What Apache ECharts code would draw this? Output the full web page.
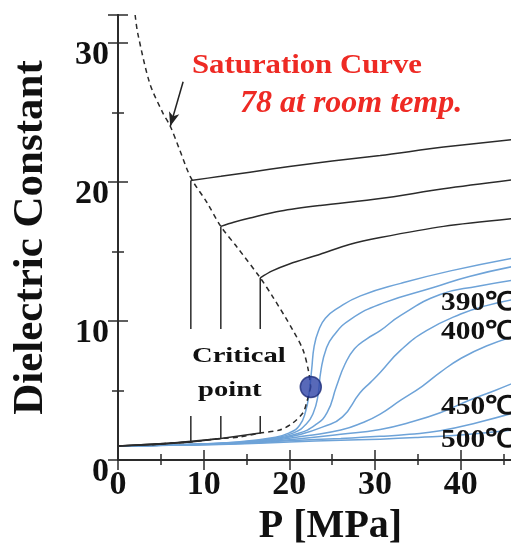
<!DOCTYPE html>
<html><head><meta charset="utf-8">
<script src="https://cdn.jsdelivr.net/npm/echarts@6/dist/echarts.min.js"></script>
<style>html,body{margin:0;padding:0;background:#fff}#c{width:511px;height:546px}</style>
</head><body><div id="c"></div>
<script>
// ---- data (P [MPa], dielectric constant) ----
const xTickValues = [0, 10, 20, 30, 40];
const yTickValues = [0, 10, 20, 30];
const satLiquid = [[2.0,32.0],[2.3,30.7],[3.7,27.1],[5.2,25.0],[6.1,24.0],[7.2,22.3],[8.5,20.3],[10.4,18.5],[12.0,16.8],[13.9,15.3],[16.6,13.1],[18.1,11.7],[20.4,9.35],[21.6,7.9],[22.2,6.5],[22.5,5.25]];
const satVapor = [[22.5,5.25],[22.0,4.1],[21.6,3.4],[20.4,2.66],[18.9,2.16],[16.6,1.94],[14.2,1.65],[12.0,1.55],[8.5,1.3],[6.4,1.22],[4.0,1.1]];
const criticalPoint = [[22.5, 5.25]];
// subcritical isotherms (black): gas branch + liquid branch
const isoAGas = [[0,1.0],[4,1.1],[8.5,1.3]];
const isoALiquid = [[8.5,20.1],[12,20.4],[15.4,20.7],[20,21.1],[25,21.5],[30.6,21.9],[38,22.5],[46.8,23.1]];
const isoBGas = [[0,1.0],[6,1.2],[12,1.55]];
const isoBLiquid = [[12,16.8],[13.5,17.1],[15.4,17.4],[19,17.9],[23.6,18.3],[30.6,18.8],[38,19.5],[46.8,20.2]];
const isoCGas = [[0,1.0],[8.5,1.3],[12,1.55],[16.6,1.94]];
const isoCLiquid = [[16.6,13.1],[18,13.6],[20,14.1],[23.6,14.8],[27,15.5],[30.6,16.0],[38,16.8],[46.8,17.4]];
// supercritical isotherms (blue)
const blue1 = [[0,1.0],[8,1.12],[14,1.3],[18,1.6],[20,1.95],[21.2,2.5],[21.9,3.5],[22.3,4.8],[22.6,6.5],[22.9,8.2],[23.4,9.3],[24.2,10.2],[25.6,10.9],[28.3,11.8],[33,12.7],[38.8,13.6],[46.8,14.6]];
const blue2 = [[0,1.0],[8,1.12],[14,1.28],[18,1.55],[20.5,1.95],[22,2.6],[22.8,3.4],[23.3,4.5],[23.7,6.5],[24.3,8.0],[25.1,8.9],[27.1,10.1],[31,11.3],[36.8,12.4],[41,13.2],[46.8,14.0]];
const blue3 = [[0,1.0],[8,1.11],[14,1.26],[18,1.5],[21,1.9],[23,2.5],[24.4,3.4],[25.5,5.3],[26.5,6.9],[27.6,8.0],[29,8.7],[30.6,9.3],[33,10.4],[37.6,11.9],[42,12.5],[46.8,13.0]];
const blue4 = [[0,1.0],[8,1.1],[14,1.24],[18,1.45],[21,1.8],[24,2.4],[26.2,3.1],[28.2,4.8],[29.5,5.6],[30.6,6.3],[33,7.9],[36,9.3],[40,10.5],[43,11.1],[46.8,11.6]];
const blue5 = [[0,1.0],[8,1.1],[14,1.22],[18,1.4],[22,1.75],[26,2.15],[28.6,2.7],[30.6,3.3],[33,4.3],[35.5,5.3],[37.6,6.3],[40,7.3],[43,8.2],[46.8,9.0]];
const blue6 = [[0,1.0],[8,1.09],[14,1.2],[20,1.45],[26,1.85],[30.6,2.2],[34,2.7],[37.6,3.4],[41,4.3],[44,5.0],[46.8,5.7]];
const blue7 = [[0,1.0],[8,1.08],[14,1.18],[20,1.38],[26,1.55],[30.6,1.7],[34,1.85],[37.6,2.1],[42,2.7],[46.8,3.5]];
const blue8 = [[0,1.0],[8,1.07],[14,1.15],[20,1.3],[26,1.42],[30.6,1.5],[35,1.62],[40,1.8],[46.8,2.2]];
const arrowLine = [[7.6,27.2],[6.1,24.0]];
const tempLabels = ['390℃','400℃','450℃','500℃'];

const SERIF = '"Liberation Serif","Times New Roman",serif';
const BLUE = '#6ea3d8';
const DARK = '#2b2b2b';

function lineSeries(data, color, width, extra) {
  return Object.assign({type:'line', data:data, symbol:'none', silent:true,
    lineStyle:{color:color, width:width}, clip:true}, extra || {});
}

const series = [];
[blue8, blue7, blue6, blue5, blue4, blue3, blue2, blue1].forEach(d => {
  series.push(lineSeries(d, BLUE, 1.5, {smooth:0.5, z:2}));
});
[[isoAGas, isoALiquid],[isoBGas, isoBLiquid],[isoCGas, isoCLiquid]].forEach(([g, l]) => {
  series.push(lineSeries(g.concat([l[0]]), DARK, 1.5, {z:3}));
  series.push(lineSeries(l, DARK, 1.5, {smooth:0.3, z:3}));
});
series.push(lineSeries(satLiquid, DARK, 1.5, {smooth:0.3, z:4, lineStyle:{color:DARK, width:1.5, type:[5,4]}}));
series.push(lineSeries(satVapor, DARK, 1.5, {smooth:0.3, z:4, lineStyle:{color:DARK, width:1.5, type:[5,4]}}));
series.push({type:'line', data:[], symbol:'none', silent:true,
  markLine:{silent:true, symbol:['none','arrow'], symbolSize:[8,14], label:{show:false},
    lineStyle:{color:'#222', width:1.5, type:'solid'},
    data:[[{coord:arrowLine[0]},{coord:arrowLine[1]}]]}});
series.push({type:'scatter', data:criticalPoint, symbol:'circle', symbolSize:21, z:10, silent:true,
  itemStyle:{color:'#2e44a8', borderColor:'#1c2b78', borderWidth:1.5}});

const axisLineStyle = {lineStyle:{color:DARK, width:2}};
const chart = echarts.init(document.getElementById('c'), null, {renderer:'canvas'});
chart.setOption({
  animation:false,
  backgroundColor:'#fff',
  grid:{left:118, top:15, right:-8, bottom:86, containLabel:false, outerBoundsMode:'none'},
  xAxis:[{
    type:'value', min:0, max:46.8, interval:10, position:'bottom',
    name:'P [MPa]', nameLocation:'middle', nameGap:39,
    nameTextStyle:{fontFamily:SERIF, fontWeight:'bold', fontSize:40, color:'#111', padding:[0,0,0,24]},
    axisLine:axisLineStyle,
    axisTick:{inside:true, length:10, lineStyle:{color:DARK, width:1.5}},
    minorTick:{show:true, splitNumber:2, length:6, lineStyle:{color:DARK, width:1.5}},
    splitLine:{show:false},
    axisLabel:{fontFamily:SERIF, fontWeight:'bold', fontSize:34, color:'#111', margin:8,
      formatter:v => xTickValues.includes(v) ? String(v) : ''}
  },{
    type:'value', min:0, max:46.8, interval:10, position:'top',
    axisLine:axisLineStyle,
    axisTick:{inside:true, length:10, lineStyle:{color:DARK, width:1.5}},
    minorTick:{show:true, splitNumber:2, length:5, lineStyle:{color:DARK, width:1.5}},
    splitLine:{show:false}, axisLabel:{show:false}
  }],
  yAxis:[{
    type:'value', min:0, max:32, interval:10, position:'left',
    name:'Dielectric Constant', nameLocation:'middle', nameGap:66, nameRotate:90,
    nameTextStyle:{fontFamily:SERIF, fontWeight:'bold', fontSize:43, color:'#111'},
    axisLine:axisLineStyle,
    axisTick:{inside:true, length:10, lineStyle:{color:DARK, width:1.5}},
    minorTick:{show:true, splitNumber:2, length:6, lineStyle:{color:DARK, width:1.5}},
    splitLine:{show:false},
    axisLabel:{fontFamily:SERIF, fontWeight:'bold', fontSize:34, color:'#111', margin:9,
      verticalAlign:'top', lineHeight:24,
      formatter:v => yTickValues.includes(v) ? String(v) : ''}
  },{
    type:'value', min:0, max:32, interval:10, position:'right',
    axisLine:axisLineStyle,
    axisTick:{inside:true, length:10, lineStyle:{color:DARK, width:1.5}},
    minorTick:{show:true, splitNumber:2, length:6, lineStyle:{color:DARK, width:1.5}},
    splitLine:{show:false}, axisLabel:{show:false}
  }],
  series:series,
  graphic:[
    {type:'text', x:192, y:66, scaleX:1.14, z:50, style:{text:'Saturation Curve', fill:'#ee2a24',
      font:'bold 27px '+SERIF, textVerticalAlign:'middle'}},
    {type:'text', x:240, y:104, z:50, style:{text:'78 at room temp.', fill:'#ee2a24',
      font:'italic bold 32px '+SERIF, textVerticalAlign:'middle'}},
    {type:'rect', shape:{x:186, y:329, width:104, height:87}, z:40, style:{fill:'#fff'}},
    {type:'text', x:192, y:356, scaleX:1.3, z:50, style:{text:'Critical', fill:'#111',
      font:'bold 22px '+SERIF, textVerticalAlign:'middle'}},
    {type:'text', x:198, y:390, scaleX:1.3, z:50, style:{text:'point', fill:'#111',
      font:'bold 22px '+SERIF, textVerticalAlign:'middle'}},
    {type:'text', x:441, y:303, scaleX:1.13, z:50, style:{text:tempLabels[0], fill:'#111',
      font:'bold 26px '+SERIF, textVerticalAlign:'middle'}},
    {type:'text', x:441, y:332, scaleX:1.13, z:50, style:{text:tempLabels[1], fill:'#111',
      font:'bold 26px '+SERIF, textVerticalAlign:'middle'}},
    {type:'text', x:441, y:407, scaleX:1.13, z:50, style:{text:tempLabels[2], fill:'#111',
      font:'bold 26px '+SERIF, textVerticalAlign:'middle'}},
    {type:'text', x:441, y:440, scaleX:1.13, z:50, style:{text:tempLabels[3], fill:'#111',
      font:'bold 26px '+SERIF, textVerticalAlign:'middle'}}
  ]
});
</script></body></html>
